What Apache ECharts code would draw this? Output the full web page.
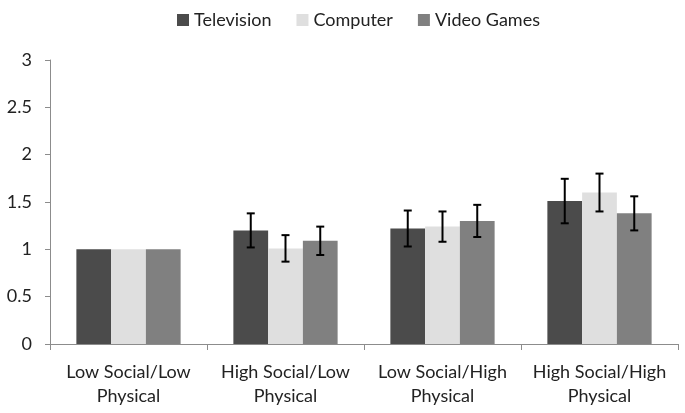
<!DOCTYPE html>
<html>
<head>
<meta charset="utf-8">
<script src="https://cdn.jsdelivr.net/npm/echarts@6/dist/echarts.min.js"></script>
<style>html,body{margin:0;padding:0;background:#fff}#c{width:685px;height:413px}</style>
</head>
<body>
<div id="c"></div>
<script>
var categories = ['Low Social/Low\nPhysical', 'High Social/Low\nPhysical', 'Low Social/High\nPhysical', 'High Social/High\nPhysical'];
var seriesNames = ['Television', 'Computer', 'Video Games'];
var television = [1.0, 1.2, 1.22, 1.51];
var computer = [1.0, 1.01, 1.24, 1.6];
var videoGames = [1.0, 1.09, 1.3, 1.38];
var televisionErr = [0, 0.18, 0.19, 0.235];
var computerErr = [0, 0.14, 0.16, 0.2];
var videoGamesErr = [0, 0.15, 0.17, 0.18];
var yTicks = [0, 0.5, 1, 1.5, 2, 2.5, 3];

var colors = ['#4b4b4b', '#dfdfdf', '#808080'];
var values = [television, computer, videoGames];
var errs = [televisionErr, computerErr, videoGamesErr];
var catGap = 0.336;
var font = 'Lato, "Open Sans", sans-serif';

var series = [];
values.forEach(function (vals, si) {
  series.push({
    name: seriesNames[si], type: 'bar', data: vals,
    barGap: '0%', barCategoryGap: (catGap * 100) + '%',
    itemStyle: { color: colors[si] },
    z: 2
  });
});
values.forEach(function (vals, si) {
  var data = vals.map(function (v, i) { return [i, v, errs[si][i]]; }).filter(function (d) { return d[2] > 0; });
  series.push({
    type: 'custom', name: seriesNames[si] + ' err', data: data, z: 5,
    renderItem: function (params, api) {
      var idx = api.value(0), v = api.value(1), e = api.value(2);
      var band = api.size([1, 0])[0];
      var bw = band * (1 - catGap) / 3;
      var center = api.coord([idx, v]);
      var x = center[0] + (si - 1) * bw;
      var yHi = api.coord([idx, v + e])[1];
      var yLo = api.coord([idx, v - e])[1];
      var cap = 4;
      var st = { stroke: '#000', lineWidth: 2 };
      return { type: 'group', children: [
        { type: 'line', shape: { x1: x, y1: yHi, x2: x, y2: yLo }, style: st },
        { type: 'line', shape: { x1: x - cap, y1: yHi, x2: x + cap, y2: yHi }, style: st },
        { type: 'line', shape: { x1: x - cap, y1: yLo, x2: x + cap, y2: yLo }, style: st }
      ]};
    },
    silent: true
  });
});

var chart = echarts.init(document.getElementById('c'), null, { renderer: 'canvas' });
chart.setOption({
  animation: false,
  backgroundColor: '#fff',
  legend: {
    data: seriesNames, top: 6, left: 172,
    itemWidth: 12, itemHeight: 12, itemGap: 25, icon: 'rect',
    textStyle: { fontFamily: font, fontSize: 18, color: '#222' }
  },
  grid: { left: 50, right: 7, top: 60, bottom: 69 },
  xAxis: {
    type: 'category', data: categories,
    axisLine: { lineStyle: { color: '#8c8c8c', width: 1 } },
    axisTick: { show: true, length: 6, lineStyle: { color: '#8c8c8c' } },
    axisLabel: { fontFamily: font, fontSize: 18, color: '#222', lineHeight: 24, margin: 16, interval: 0 }
  },
  yAxis: {
    type: 'value', min: 0, max: 3, interval: 0.5,
    axisLine: { show: true, lineStyle: { color: '#8c8c8c', width: 1 } },
    axisTick: { show: true, length: 5, lineStyle: { color: '#8c8c8c' } },
    splitLine: { show: false },
    axisLabel: { fontFamily: font, fontSize: 18, color: '#222', margin: 18,
      formatter: function (v) { return yTicks.indexOf(v) >= 0 ? String(v) : ''; } }
  },
  series: series
});
</script>
</body>
</html>
